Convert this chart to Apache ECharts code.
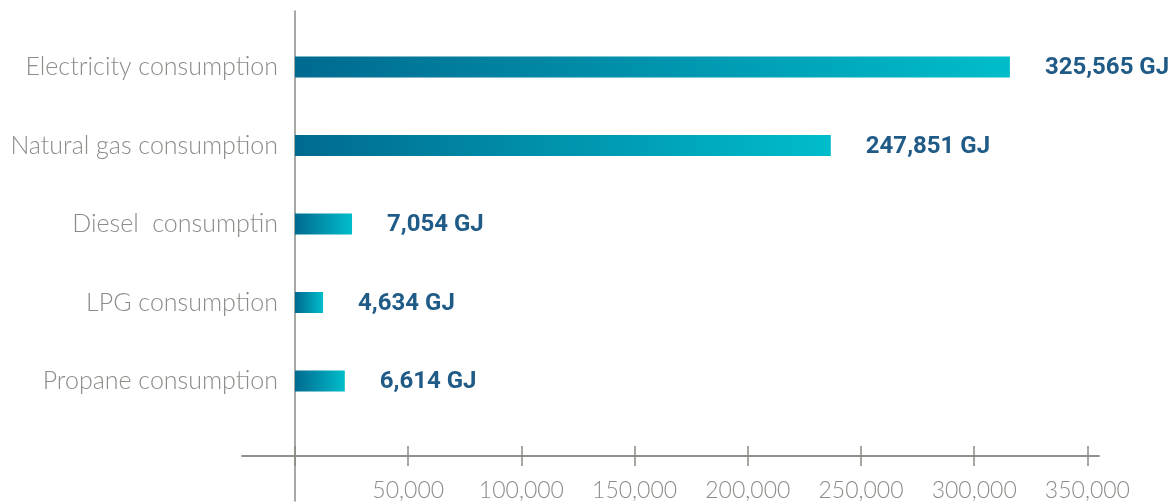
<!DOCTYPE html>
<html>
<head>
<meta charset="utf-8">
<script src="https://cdn.jsdelivr.net/npm/echarts@6/dist/echarts.min.js"></script>
<style>
  html, body { margin: 0; padding: 0; background: #fff; }
  #chart { width: 1176px; height: 504px; }
</style>
</head>
<body>
<div id="chart"></div>
<script>
var categories = ['Electricity consumption', 'Natural gas consumption', 'Diesel  consumptin', 'LPG consumption', 'Propane consumption'];
// bar lengths as drawn in the picture (they do not follow the printed labels)
var barValues = [315800, 236700, 25200, 12400, 22000];
var valueLabels = ['325,565 GJ', '247,851 GJ', '7,054 GJ', '4,634 GJ', '6,614 GJ'];
var tickValues = [0, 50000, 100000, 150000, 200000, 250000, 300000, 350000];
var tickLabels = [50000, 100000, 150000, 200000, 250000, 300000, 350000];

var chart = echarts.init(document.getElementById('chart'));
var axisColor = '#8a8a85';
var textColor = '#8c8c88';
var xMin = -23410, xMax = 355120;

var option = {
  animation: false,
  grid: [
    // upper frame: x axis on its bottom edge
    { left: 242, right: 77, top: 11, bottom: 48, outerBoundsMode: 'none', containLabel: false },
    // lower frame: same line, ticks going up, y line running on below
    { left: 242, right: 77, top: 456, bottom: 3, outerBoundsMode: 'none', containLabel: false },
    // bars
    { left: 295, right: 88.7, top: 27.75, bottom: 83.75, outerBoundsMode: 'none', containLabel: false }
  ],
  xAxis: [
    {
      gridIndex: 0,
      type: 'value',
      position: 'bottom',
      min: xMin,
      max: xMax,
      axisLine: { onZero: false, lineStyle: { color: axisColor, width: 1.5 } },
      axisTick: {
        show: true,
        length: 10,
        customValues: tickValues,
        lineStyle: { color: axisColor, width: 1.5 }
      },
      axisLabel: {
        customValues: tickLabels,
        margin: 23,
        color: textColor,
        fontFamily: 'Lato',
        fontWeight: 300,
        fontSize: 23,
        formatter: function (v) { return v.toLocaleString('en-US'); }
      },
      splitLine: { show: false }
    },
    {
      gridIndex: 1,
      type: 'value',
      position: 'top',
      min: xMin,
      max: xMax,
      axisLine: { onZero: false, lineStyle: { color: axisColor, width: 1.5 } },
      axisTick: {
        show: true,
        length: 10,
        customValues: tickValues,
        lineStyle: { color: axisColor, width: 1.5 }
      },
      axisLabel: { show: false },
      splitLine: { show: false }
    },
    {
      gridIndex: 2,
      type: 'value',
      min: 0,
      max: 350000,
      show: false
    }
  ],
  yAxis: [
    {
      gridIndex: 0,
      type: 'value',
      min: 0,
      max: 1,
      axisLine: { show: true, onZero: true, lineStyle: { color: axisColor, width: 1.5 } },
      axisTick: { show: false },
      axisLabel: { show: false },
      splitLine: { show: false }
    },
    {
      gridIndex: 1,
      type: 'value',
      min: 0,
      max: 1,
      axisLine: { show: true, onZero: true, lineStyle: { color: axisColor, width: 1.5 } },
      axisTick: { show: false },
      axisLabel: { show: false },
      splitLine: { show: false }
    },
    {
      gridIndex: 2,
      type: 'category',
      inverse: true,
      data: categories,
      axisLine: { show: false },
      axisTick: { show: false },
      axisLabel: {
        margin: 17,
        color: textColor,
        fontFamily: 'Lato',
        fontWeight: 300,
        fontSize: 25
      }
    }
  ],
  series: [
    {
      type: 'bar',
      xAxisIndex: 2,
      yAxisIndex: 2,
      barWidth: 21,
      data: barValues,
      itemStyle: {
        color: new echarts.graphic.LinearGradient(0, 0, 1, 0, [
          { offset: 0, color: '#006a90' },
          { offset: 1, color: '#00bdca' }
        ])
      },
      label: {
        show: true,
        position: 'right',
        distance: 35,
        offset: [0, 1],
        color: '#1f5b86',
        fontFamily: 'Roboto',
        fontWeight: 'bold',
        fontSize: 24,
        formatter: function (p) { return valueLabels[p.dataIndex]; }
      }
    }
  ]
};

chart.setOption(option);
</script>
</body>
</html>
